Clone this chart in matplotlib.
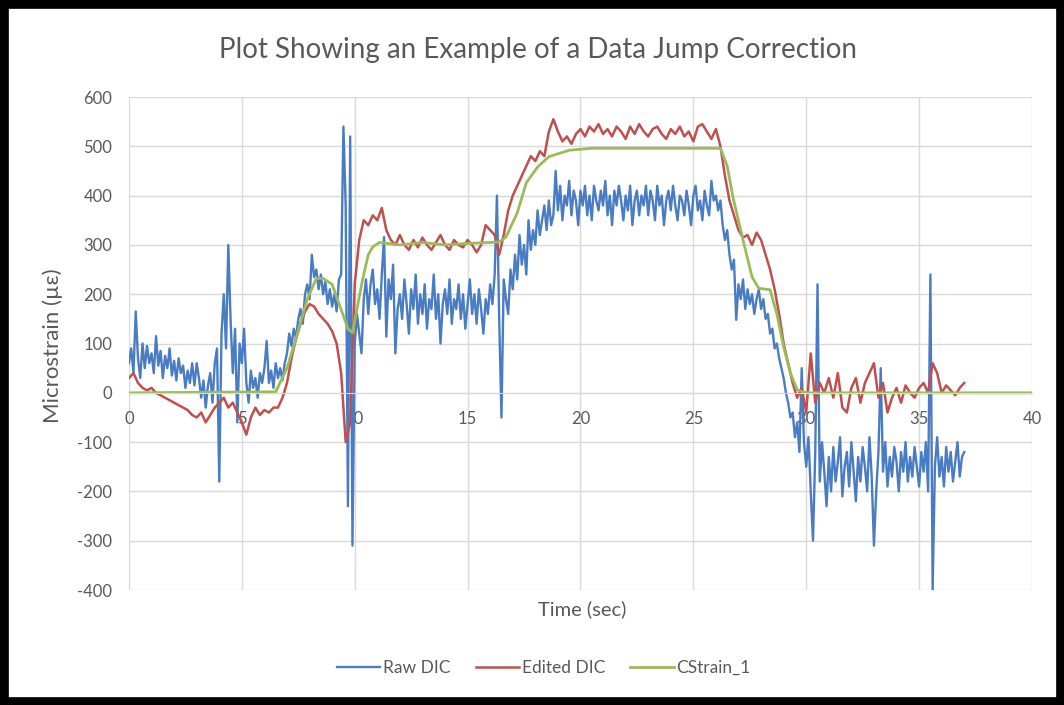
import numpy as np
import matplotlib.pyplot as plt
from matplotlib.patches import Rectangle

plt.rcParams['font.family'] = ['Lato', 'DejaVu Sans']
plt.rcParams['axes.unicode_minus'] = False

# sample intervals (sec)
dt_raw = 0.1
dt_edit = 0.2

# Raw DIC, one row per second
raw_dic = [60, 90, 40, 165, 70, 30, 100, 50, 95, 60,
           80, 40, 115, 55, 85, 30, 75, 50, 90, 35,
           65, 25, 70, 40, 55, 10, 45, 20, 60, 15,
           60, 30, -10, 25, -30, 15, 40, -20, 60, 90,
           -180, 120, 200, 90, 300, 150, 40, 130, -60, 100,
           60, 130, 20, -20, 45, 10, 30, -10, 40, 20,
           50, 105, 20, 45, 10, 60, 30, 50, 25, 60,
           80, 120, 95, 130, 110, 150, 170, 140, 200, 220,
           190, 280, 235, 250, 210, 240, 200, 225, 180, 210,
           175, 200, 165, 230, 240, 540, 380, -230, 520, -310,
           100, 160, 120, 80, 190, 230, 160, 220, 250, 180,
           210, 150, 240, 316, 114, 230, 190, 260, 80, 170,
           200, 150, 230, 180, 120, 210, 170, 240, 140, 200,
           160, 220, 130, 190, 170, 240, 150, 200, 100, 180,
           210, 160, 230, 140, 190, 170, 220, 150, 200, 130,
           180, 230, 160, 200, 140, 210, 170, 120, 190, 160,
           220, 180, 240, 400, 150, -50, 230, 190, 160, 250,
           210, 280, 230, 320, 260, 300, 240, 350, 290, 330,
           300, 370, 320, 350, 380, 330, 390, 340, 360, 450,
           370, 420, 350, 400, 380, 430, 360, 410, 390, 340,
           410, 380, 420, 360, 400, 350, 420, 390, 370, 410,
           380, 430, 360, 400, 340, 410, 380, 420, 390, 350,
           400, 370, 420, 340, 390, 410, 360, 400, 380, 420,
           360, 410, 390, 350, 420, 380, 400, 340, 390, 410,
           370, 420, 380, 350, 400, 390, 360, 410, 380, 340,
           400, 420, 370, 390, 350, 410, 380, 360, 430, 390,
           400, 370, 390, 340, 310, 330, 280, 250, 270, 148,
           220, 190, 230, 170, 210, 180, 200, 160, 190, 210,
           170, 190, 150, 160, 120, 130, 90, 100, 70, 50,
           30, 0, -20, -50, -40, -90, -60, -120, 50, -100,
           -150, -90, -200, -300, -120, 220, -180, -100, -160, -230,
           -130, -200, -110, -180, -140, -90, -210, -150, -120, -190,
           -100, -160, -220, -130, -180, -110, -150, -200, -90, -170,
           -310, -200, -120, 50, -160, -100, -190, -130, -170, -110,
           -140, -200, -120, -160, -100, -180, -130, -170, -110, -150,
           -190, -120, -160, -100, -200, 240, -400, -150, -90, -170,
           -130, -190, -110, -160, -120, -180, -140, -100, -170, -130,
           -120]

# Edited DIC, two rows per second
edited_dic = [30, 40, 20, 10, 5, 10, 0, -5, -10, -15,
              -20, -25, -30, -35, -45, -50, -40, -60, -45, -30,
              -20, -10, -30, -20, -40, -60, -85, -50, -30, -45,
              -35, -40, -30, -30, -10, 20, 70, 110, 140, 165,
              180, 175, 160, 150, 140, 125, 100, 40, -100, -60,
              220, 310, 350, 340, 360, 350, 375, 330, 310, 300,
              320, 300, 290, 310, 295, 315, 300, 290, 305, 320,
              300, 290, 310, 300, 295, 310, 300, 285, 300, 340,
              330, 320, 280, 320, 370, 400, 420, 440, 460, 480,
              470, 490, 480, 530, 555, 530, 510, 520, 505, 525,
              535, 520, 540, 530, 545, 525, 535, 520, 540, 530,
              515, 540, 525, 545, 530, 520, 535, 540, 525, 515,
              535, 525, 540, 520, 530, 510, 540, 545, 530, 515,
              535, 500, 440, 390, 360, 330, 315, 320, 300, 325,
              310, 280, 250, 210, 160, 100, 60, 20, -10, 10,
              -40, 80, -20, 20, 0, 30, -10, 40, -30, -40,
              10, 30, -20, 20, 40, 60, -10, 20, -40, -10,
              10, -20, 15, 0, -10, 10, 20, 0, 60, 40,
              0, 15, 5, -5, 10, 20]

time_raw = np.arange(len(raw_dic)) * dt_raw
time_edit = np.arange(len(edited_dic)) * dt_edit

# CStrain_1 (smooth gauge reading)
time_cs = [0, 6.5, 7.0, 7.4, 7.9, 8.3, 8.6, 9.0, 9.35, 9.7, 9.9, 10.1, 10.35,
           10.6, 10.8, 11.1, 12, 13, 14, 15, 16, 16.4, 16.7, 17.2, 17.6, 18.1,
           18.6, 19.5, 20.5, 26.2, 26.5, 26.75, 27.2, 27.6, 27.9, 28.4, 28.7,
           29.0, 29.3, 29.6, 30, 40]
cstrain = [0, 2, 50, 110, 190, 232, 232, 220, 175, 130, 122, 170, 230,
           280, 296, 305, 300, 305, 300, 303, 305, 306, 316, 365, 426, 458,
           479, 492, 496, 496, 460, 398, 310, 235, 212, 209, 160,
           93, 40, 6, 0, 0]

fig = plt.figure(figsize=(10.64, 7.05), dpi=100)
ax = fig.add_axes([0.1212, 0.1631, 0.8487, 0.6993])

ax.plot(time_raw, raw_dic, color='#4A7CC4', lw=1.7, label='Raw DIC')
ax.plot(time_edit, edited_dic, color='#C0504D', lw=1.8, label='Edited DIC')
ax.plot(time_cs, cstrain, color='#9BBB59', lw=2.0, label='CStrain_1')

ax.set_xlim(0, 40)
ax.set_ylim(-400, 600)
ax.set_xticks(range(0, 41, 5))
ax.set_yticks(range(-400, 601, 100))
ax.grid(True, color='#D9D9D9', lw=1)
ax.set_axisbelow(True)

for s in ['top', 'right', 'left']:
    ax.spines[s].set_visible(False)
ax.spines['bottom'].set_position(('data', 0))
ax.spines['bottom'].set_color('#D9D9D9')
ax.tick_params(length=0, labelsize=12, labelcolor='#595959')
ax.tick_params(axis='x', pad=13)
ax.tick_params(axis='y', pad=12)

fig.text(0.506, 0.929, 'Plot Showing an Example of a Data Jump Correction',
         ha='center', va='center', fontsize=20, color='#595959')
fig.text(0.547, 0.136, 'Time (sec)', ha='center', va='center',
         fontsize=14.5, color='#595959')
fig.text(0.050, 0.509, 'Microstrain (µε)', ha='center', va='center',
         rotation=90, fontsize=16, color='#595959')

fig.legend(loc='center', bbox_to_anchor=(0.511, 0.0525), ncol=3, frameon=False,
           fontsize=12.5, labelcolor='#595959', handlelength=2.5,
           handletextpad=0.15, columnspacing=1.45)

fig.patches.append(Rectangle((0, 0), 1, 1, transform=fig.transFigure,
                             fill=False, edgecolor='black', lw=12))

plt.savefig('out.png')
